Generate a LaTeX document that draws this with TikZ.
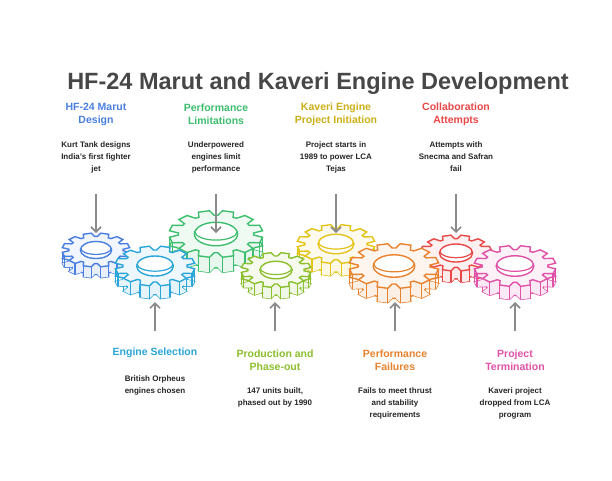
\documentclass[tikz,border=0pt]{standalone}
\usepackage{fontspec}
\setmainfont{Liberation Sans}
\usetikzlibrary{arrows.meta,calc}
\definecolor{cblue}{HTML}{4A7FE0}
\definecolor{ccyan}{HTML}{2AA5D8}
\definecolor{cgreen}{HTML}{3DBE6E}
\definecolor{clime}{HTML}{8CBF2E}
\definecolor{cyel}{HTML}{E3C41A}
\definecolor{corange}{HTML}{E8822E}
\definecolor{cred}{HTML}{E84848}
\definecolor{cpink}{HTML}{E052A8}
\definecolor{agray}{HTML}{8A8A8A}
\tikzset{
 head/.style={font=\bfseries\fontsize{10.5}{13}\selectfont,align=center},
 desc/.style={font=\bfseries\fontsize{8}{12}\selectfont,align=center,text=black!85},
 arr/.style={draw=agray,line width=1.6pt,-{Straight Barb[length=5pt,width=10pt]}},
}
\newcommand{\gearshape}[1]{(0:#1*0.8) \foreach \i in {0,...,11}{ -- ({\i*30+3}:#1*0.8) -- ({\i*30+8}:#1) -- ({\i*30+22}:#1) -- ({\i*30+27}:#1*0.8)} -- cycle}
\newcommand{\drawgear}[5]{% x y R color name
 \begin{scope}[shift={(#1,#2+#3*0.32)},yscale=0.5]
  \draw[#4,line width=1.4pt,fill=#4!12] \gearshape{#3};
 \end{scope}
 \begin{scope}[shift={(#1,#2)},yscale=0.5]
  \foreach \i in {0,...,11}{
   \pgfmathsetmacro{\aa}{\i*30+8}\pgfmathsetmacro{\ab}{\i*30+22}
   \pgfmathsetmacro{\ac}{\i*30+3}\pgfmathsetmacro{\ad}{\i*30+27}
   \pgfmathparse{sin(\aa)>0.05||sin(\ab)>0.05?1:0}
   \ifnum\pgfmathresult=1
    \fill[#4!12] (\ac:#3*0.8) -- (\aa:#3) -- (\ab:#3) -- (\ad:#3*0.8) -- ++(0,#3*0.64) -- ($(\ab:#3)+(0,#3*0.64)$) -- ($(\aa:#3)+(0,#3*0.64)$) -- ($(\ac:#3*0.8)+(0,#3*0.64)$) -- cycle;
    \draw[#4,line width=1.2pt] (\aa:#3) -- ++(0,#3*0.64) (\ab:#3) -- ++(0,#3*0.64);
   \fi}
  \draw[#4,line width=1.4pt,fill=#4!8!white] \gearshape{#3};
  \draw[#4,line width=1.4pt,fill=white] (0,0) ellipse ({#3*0.46} and {#3*0.5});
  \draw[#4,line width=1.2pt] ({-#3*0.45},{-#3*0.1}) arc[start angle=180,end angle=0,x radius=#3*0.45,y radius=#3*0.36];
  \coordinate (#5) at (0,0);
 \end{scope}}
\begin{document}
\begin{tikzpicture}[x=1pt,y=-1pt]
\useasboundingbox[fill=white] (0,0) rectangle (612,480);
\node[font=\bfseries\fontsize{23.5}{26}\selectfont,text=black!72] (title) at (318,83) {HF-24 Marut and Kaveri Engine Development};
% gears
\drawgear{216}{234}{47}{cgreen}{g3}
\drawgear{96}{250}{34}{cblue}{g1}
\drawgear{336}{244}{39}{cyel}{g5}
\drawgear{456}{253}{36}{cred}{g7}
\drawgear{155}{266}{40}{ccyan}{g2}
\drawgear{276}{270}{35}{clime}{g4}
\drawgear{394}{266}{45}{corange}{g6}
\drawgear{515}{266}{41}{cpink}{g8}
% top labels
\node[head,text=cblue] (h1) at (96,114) {HF-24 Marut\\Design};
\node[desc] (d1) at (96,157) {Kurt Tank designs\\India's first fighter\\jet};
\node[head,text=cgreen] (h3) at (216,114) {Performance\\Limitations};
\node[desc] (d3) at (216,157) {Underpowered\\engines limit\\performance};
\node[head,text=cyel!90!black] (h5) at (336,114) {Kaveri Engine\\Project Initiation};
\node[desc] (d5) at (336,157) {Project starts in\\1989 to power LCA\\Tejas};
\node[head,text=cred] (h7) at (456,114) {Collaboration\\Attempts};
\node[desc] (d7) at (456,157) {Attempts with\\Snecma and Safran\\fail};
% bottom labels
\node[head,text=ccyan] (h2) at (155,353) {Engine Selection};
\node[desc] (d2) at (155,385) {British Orpheus\\engines chosen};
\node[head,text=clime] (h4) at (275,360) {Production and\\Phase-out};
\node[desc] (d4) at (275,397) {147 units built,\\phased out by 1990};
\node[head,text=corange] (h6) at (395,360) {Performance\\Failures};
\node[desc] (d6) at (395,403) {Fails to meet thrust\\and stability\\requirements};
\node[head,text=cpink] (h8) at (515,360) {Project\\Termination};
\node[desc] (d8) at (515,403) {Kaveri project\\dropped from LCA\\program};
% arrows
\foreach \x/\n in {96/1,216/3,336/5,456/7}{
 \coordinate (ta\n) at (\x,194); \coordinate (tb\n) at (\x,233);
 \draw[arr] (ta\n) -- (tb\n);}
\foreach \x/\n in {155/2,275/4,395/6,515/8}{
 \coordinate (ba\n) at (\x,331); \coordinate (bb\n) at (\x,302);
 \draw[arr] (ba\n) -- (bb\n);}
\end{tikzpicture}
\end{document}
